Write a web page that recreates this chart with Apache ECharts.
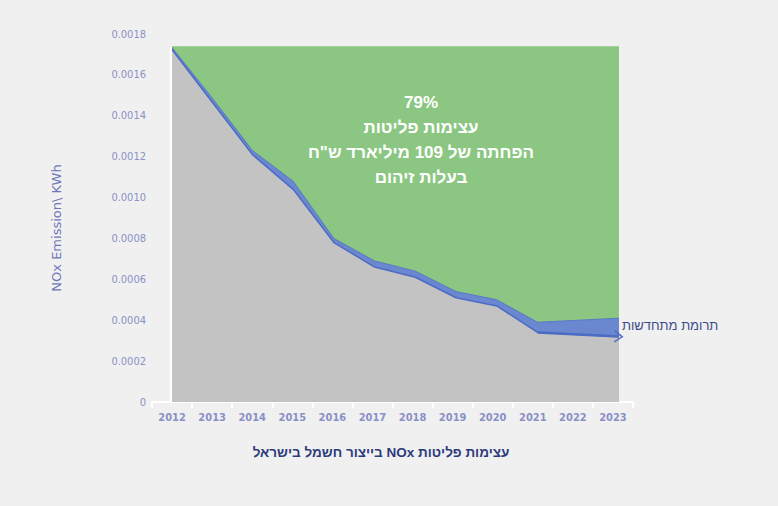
<!DOCTYPE html>
<html lang="he">
<head>
<meta charset="utf-8">
<script src="https://cdn.jsdelivr.net/npm/echarts@6/dist/echarts.min.js"></script>
<style>
html,body{margin:0;padding:0;background:#f0f0f0;}
#c{width:778px;height:506px;}
</style>
</head>
<body>
<div id="c"></div>
<script>
// ---- data ----
const years = [2012, 2013, 2014, 2015, 2016, 2017, 2018, 2019, 2020, 2021, 2022, 2023];
const yearLabels = ['2012','2013','2014','2015','2016','2017','2018','2019','2020','2021','2022','2023'];
// upper edge of the green area (fossil baseline) — flat
const greenTop = [0.00174, 0.00174, 0.00174, 0.00174, 0.00174, 0.00174, 0.00174, 0.00174, 0.00174, 0.00174, 0.00174, 0.00174];
// upper edge of the blue band (renewables contribution)
const blueTop  = [0.00174, 0.00149, 0.00123, 0.00108, 0.00080, 0.00069, 0.00064, 0.00054, 0.00050, 0.00039, 0.00040, 0.00041];
// actual emission intensity (grey area)
const greyTop  = [0.00173, 0.00147, 0.00121, 0.00104, 0.00078, 0.00066, 0.00061, 0.00051, 0.00047, 0.00034, 0.00033, 0.00032];
const arrowFrom = [2021, 0.00034];
const arrowTo = [2023, 0.00032];
const titleText = 'עצימות פליטות NOx בייצור חשמל בישראל';
const noteLines = ['79%', 'עצימות פליטות', 'הפחתה של 109 מיליארד ש"ח', 'בעלות זיהום'];
const renewText = 'תרומת מתחדשות';
const yName = 'NOx Emission\\ KWh';

const pairs = arr => arr.map((v, i) => [years[i], v]);
// right-to-left isolate so Hebrew lines lay out in reading order
const rtl = s => '\u2067' + s + '\u2069';

const chart = echarts.init(document.getElementById('c'), null, {renderer: 'svg'});
const labelColor = '#8a90c6';
const hebFont = '"Liberation Sans", "DejaVu Sans", sans-serif';
chart.setOption({
  backgroundColor: '#f0f0f0',
  animation: false,
  grid: {left: 152, right: 145, top: 34, bottom: 104},
  xAxis: [
    {
      type: 'category', data: yearLabels, boundaryGap: true, offset: 1,
      axisLine: {show: true, lineStyle: {color: '#ffffff', width: 2}},
      axisTick: {show: true, length: 6, lineStyle: {color: '#ffffff', width: 2}},
      axisLabel: {color: labelColor, fontSize: 11, fontWeight: 'bold', fontFamily: 'DejaVu Sans Condensed', margin: 9},
      splitLine: {show: false}
    },
    {
      type: 'value', min: 2011.5335, max: 2023.344, show: false,
      splitLine: {show: false}
    }
  ],
  yAxis: {
    type: 'value', min: 0, max: 0.0018, interval: 0.0002,
    axisLine: {show: false}, axisTick: {show: false}, splitLine: {show: false},
    axisLabel: {
      color: labelColor, fontSize: 11, fontFamily: 'DejaVu Sans Condensed', margin: 6,
      formatter: v => (Math.abs(v) < 1e-12 ? '0' : v.toFixed(4))
    }
  },
  series: [
    {
      type: 'line', xAxisIndex: 1, data: pairs(greenTop), symbol: 'none',
      lineStyle: {width: 0}, areaStyle: {color: '#8bc782', opacity: 1}, z: 1
    },
    {
      type: 'line', xAxisIndex: 1, data: pairs(blueTop), symbol: 'none',
      lineStyle: {width: 1, color: '#5a78c6'}, areaStyle: {color: '#6a87d0', opacity: 1}, z: 2
    },
    {
      type: 'line', xAxisIndex: 1, data: pairs(greyTop), symbol: 'none',
      lineStyle: {width: 1.5, color: '#4c6cc4'}, areaStyle: {color: '#c3c3c3', opacity: 1}, z: 3,
      markLine: {
        silent: true, animation: false,
        symbol: ['none', 'path://M0,10 L5,0 L10,10 L8.6,10 L5,2.8 L1.4,10 Z'],
        symbolSize: [13, 9],
        label: {show: false},
        lineStyle: {color: '#4c6cc4', width: 2.5, type: 'solid'},
        data: [
          [{coord: arrowFrom}, {coord: arrowTo}]
        ]
      }
    },
    {
      type: 'line', xAxisIndex: 1, data: [], symbol: 'none', z: 4,
      markLine: {
        silent: true, animation: false, symbol: ['none', 'none'], label: {show: false},
        lineStyle: {color: '#ffffff', width: 2, type: 'solid'},
        data: [[{coord: [years[0], 0]}, {coord: [years[0], greenTop[0]]}]]
      }
    }
  ],
  graphic: [
    {
      type: 'text', z: 10, x: 421, y: 140,
      style: {
        text: noteLines.map(rtl).join('\n'), fill: '#ffffff', align: 'center', verticalAlign: 'middle',
        font: 'bold 17px ' + hebFont, lineHeight: 25
      }
    },
    {
      type: 'text', z: 10, x: 622, y: 325,
      style: {
        text: rtl(renewText), fill: '#3b4a88', align: 'left', verticalAlign: 'middle',
        font: '13px ' + hebFont
      }
    },
    {
      type: 'text', z: 10, x: 381, y: 452,
      style: {
        text: rtl(titleText), fill: '#2d3b7c', align: 'center', verticalAlign: 'middle',
        font: 'bold 13.5px ' + hebFont
      }
    },
    {
      type: 'text', z: 10, x: 56, y: 228, rotation: Math.PI / 2,
      style: {
        text: yName, fill: '#6f78b8', align: 'center', verticalAlign: 'middle',
        font: '13px "DejaVu Sans", sans-serif'
      }
    }
  ]
});
</script>
</body>
</html>
